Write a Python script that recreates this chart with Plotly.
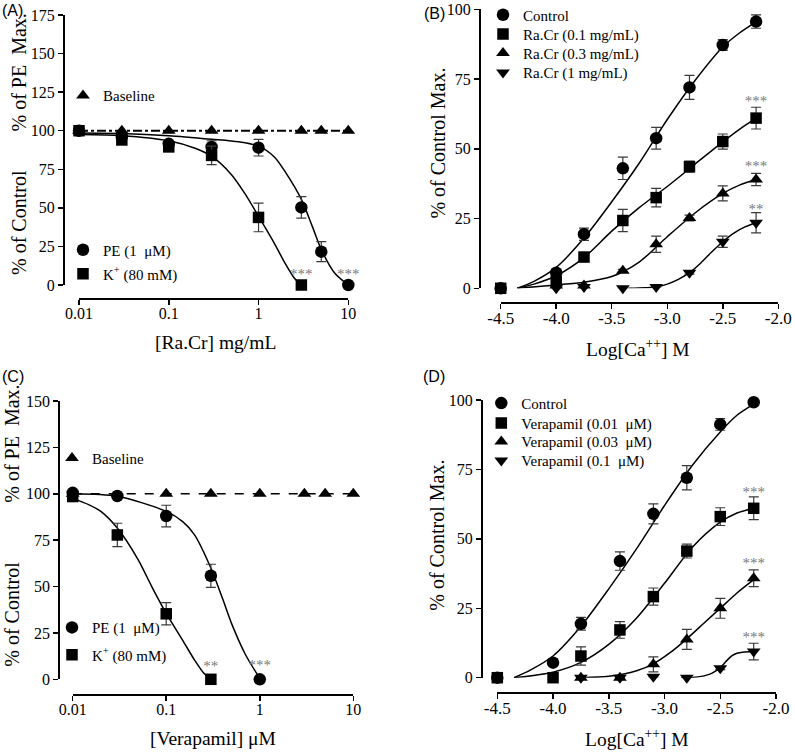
import plotly.graph_objects as go

W, H = 795, 752
SERIF = "Liberation Serif, 'Times New Roman', Times, serif"
SANS = "Liberation Sans, Arial, sans-serif"
ERR = "#3a3a3a"
SIG = "#7a7a7a"

# ---------------- Panel A : Ra.Cr on PE / K+ ----------------
A_base_x = [0.01, 0.03, 0.1, 0.3, 1, 3, 5, 10]
A_base_y = [100, 100, 100, 100, 100, 100, 100, 100]
A_pe_x = [0.01, 0.03, 0.1, 0.3, 1, 3, 5, 10]
A_pe_y = [100, 96, 91.5, 89.5, 89, 50.3, 21.6, 0]
A_pe_err = [0, 1.5, 2, 4, 5.4, 7, 6.5, 0]
A_k_x = [0.01, 0.03, 0.1, 0.3, 1, 3]
A_k_y = [100, 94, 89.5, 84, 43.8, 0]
A_k_err = [0, 2, 2.5, 6, 9.3, 0]
A_pe_fit_x = [0.01, 0.03, 0.1, 0.3, 0.6, 1, 1.5, 2, 3, 4, 5, 7, 10]
A_pe_fit_y = [98.5, 98.2, 96.8, 94.5, 92.8, 90, 83, 73, 55.5, 37.5, 23, 8, 0]
A_k_fit_x = [0.01, 0.03, 0.1, 0.2, 0.3, 0.5, 0.7, 1, 1.5, 2, 2.5, 3]
A_k_fit_y = [97.5, 96.8, 93.5, 88.5, 83.5, 71.5, 59.5, 44.5, 27, 13.5, 4.5, 0]
A_sig_x = [3, 10]
A_sig_y = [6, 6]
A_sig_text = ["***", "***"]
A_xticks = [0.01, 0.1, 1, 10]
A_xticklabels = ["0.01", "0.1", "1", "10"]
A_yticks = [0, 25, 50, 75, 100, 125, 150, 175]

# ---------------- Panel B : Ca++ curves with Ra.Cr ----------------
Ca_x = [-4.5, -4.0, -3.75, -3.4, -3.1, -2.8, -2.5, -2.2]
B_ctrl_y = [0, 5.6, 19.4, 43, 53.8, 72, 87.2, 95.6]
B_ctrl_err = [0, 1, 2.2, 4, 3.9, 4.3, 1.9, 2.4]
B_01_y = [0, 2.5, 11.2, 24.3, 32.5, 43.6, 52.6, 61]
B_01_err = [0, 0.5, 1, 4, 3.3, 2, 2.7, 3.9]
B_03_x = [-4.0, -3.75, -3.4, -3.1, -2.8, -2.5, -2.2]
B_03_y = [1, 1, 6.3, 15.8, 25.2, 34, 39]
B_03_err = [0, 0, 0.5, 2.9, 1, 2.7, 2.2]
B_1_x = [-4.0, -3.75, -3.4, -3.1, -2.8, -2.5, -2.2]
B_1_y = [0, 0.5, 0, 0.5, 5.6, 16.7, 23.5]
B_1_err = [0, 0, 0, 0, 0.5, 2, 3.6]
B_ctrl_fit_x = [-4.35, -4.2, -4.0, -3.75, -3.5, -3.25, -3.0, -2.75, -2.5, -2.35, -2.2]
B_ctrl_fit_y = [0, 2.5, 7.5, 18, 31, 45, 60.5, 74.5, 86.5, 91.5, 95.5]
B_01_fit_x = [-4.35, -4.2, -4.0, -3.75, -3.5, -3.25, -3.0, -2.75, -2.5, -2.35, -2.2]
B_01_fit_y = [0, 1.5, 4.5, 11, 20.5, 29, 36.5, 44.5, 52.5, 57, 61]
B_03_fit_x = [-4.35, -4.0, -3.75, -3.5, -3.25, -3.0, -2.75, -2.5, -2.35, -2.2]
B_03_fit_y = [0, 1.2, 2.2, 4.2, 9.5, 18.5, 27, 34, 37, 39]
B_1_fit_x = [-3.35, -3.2, -3.1, -3.0, -2.9, -2.8, -2.7, -2.6, -2.5, -2.4, -2.3, -2.2]
B_1_fit_y = [0, 0.2, 0.5, 1.5, 3.2, 5.6, 9, 13, 16.7, 19.8, 22, 23.5]
B_sig_x = [-2.2, -2.2, -2.2]
B_sig_y = [66.6, 43.4, 27.9]
B_sig_text = ["***", "***", "**"]
Ca_ticks = [-4.5, -4.0, -3.5, -3.0, -2.5, -2.0]
Ca_ticklabels = ["-4.5", "-4.0", "-3.5", "-3.0", "-2.5", "-2.0"]
Pct_ticks = [0, 25, 50, 75, 100]

# ---------------- Panel C : Verapamil on PE / K+ ----------------
C_base_x = [0.01, 0.1, 0.3, 1, 3, 5, 10]
C_base_y = [100, 100, 100, 100, 100, 100, 100]
C_pe_x = [0.01, 0.03, 0.1, 0.3, 1]
C_pe_y = [100.5, 98.8, 88, 55.8, 0]
C_pe_err = [0, 1, 5.8, 6.2, 0]
C_k_x = [0.01, 0.03, 0.1, 0.3]
C_k_y = [98.5, 77.8, 35.3, 0]
C_k_err = [0, 6.3, 6, 0]
C_pe_fit_x = [0.01, 0.03, 0.1, 0.15, 0.2, 0.3, 0.4, 0.5, 0.7, 1]
C_pe_fit_y = [100, 98.6, 90.5, 85, 78, 60, 43.5, 30, 13.5, 0.5]
C_k_fit_x = [0.01, 0.015, 0.02, 0.03, 0.05, 0.07, 0.1, 0.15, 0.2, 0.25, 0.3]
C_k_fit_y = [97.5, 94, 90.5, 81.5, 64.5, 50, 35.5, 21, 10.5, 3.5, 0]
C_sig_x = [0.3, 1]
C_sig_y = [6.5, 6.9]
C_sig_text = ["**", "***"]
C_yticks = [0, 25, 50, 75, 100, 125, 150]

# ---------------- Panel D : Ca++ curves with verapamil ----------------
D_ctrl_y = [0, 5.4, 19.4, 42, 59, 72, 91.2, 99.2]
D_ctrl_err = [0, 0, 2.3, 3.3, 3.6, 4.4, 2.1, 0.5]
D_001_y = [0, 0, 7.8, 17.2, 29.2, 45.6, 58, 61]
D_001_err = [0, 0, 3.3, 3, 3.1, 2.5, 3.2, 4.1]
D_003_x = [-3.75, -3.4, -3.1, -2.8, -2.5, -2.2]
D_003_y = [0, 0, 4.8, 13.8, 25, 35.8]
D_003_err = [0, 0, 2.7, 3.6, 3.6, 3]
D_01_x = [-3.75, -3.4, -3.1, -2.8, -2.5, -2.2]
D_01_y = [0, 0, 0.3, 0, 3.4, 9.4]
D_01_err = [0, 0, 0, 0, 0.5, 3]
D_ctrl_fit_x = [-4.35, -4.2, -4.0, -3.75, -3.5, -3.25, -3.0, -2.75, -2.5, -2.35, -2.2]
D_ctrl_fit_y = [0, 2.8, 7.8, 18.5, 32, 46.5, 62, 76.5, 88.5, 94.5, 98.5]
D_001_fit_x = [-4.35, -4.0, -3.75, -3.5, -3.25, -3.0, -2.75, -2.5, -2.35, -2.2]
D_001_fit_y = [0, 2, 5.5, 12, 21.5, 34, 47, 56, 59.3, 61]
D_003_fit_x = [-3.75, -3.5, -3.25, -3.1, -2.95, -2.8, -2.65, -2.5, -2.35, -2.2]
D_003_fit_y = [0, 0.5, 2.5, 5, 9, 14, 19.5, 25, 30.5, 35.3]
D_01_fit_x = [-2.85, -2.7, -2.6, -2.55, -2.5, -2.45, -2.4, -2.35, -2.3, -2.2]
D_01_fit_y = [0, 0.3, 1.2, 2.2, 3.6, 5.8, 7.8, 8.8, 9.2, 9.4]
D_sig_x = [-2.2, -2.2, -2.2]
D_sig_y = [66.4, 41.0, 14.3]
D_sig_text = ["***", "***", "***"]

fig = go.Figure()


def set_axes(idx, xdom, ydom, yline_x, xline_y, xlog, xrange, xtv, xtt, yrange, ytv, xfont=16):
    s = "" if idx == 1 else str(idx)
    common = dict(showline=True, linecolor="black", linewidth=2, ticks="outside",
                  ticklen=5, tickwidth=1.5, tickcolor="black", showgrid=False,
                  zeroline=False, fixedrange=True, automargin=False)
    fig.update_layout(**{
        "xaxis" + s: dict(domain=[xdom[0] / W, xdom[1] / W], anchor="free",
                          position=1 - xline_y / H, type="log" if xlog else "linear",
                          range=xrange, tickmode="array", tickvals=xtv, ticktext=xtt,
                          ticklabelstandoff=-5,
                          tickfont=dict(family=SERIF, size=xfont, color="black"),
                          **common),
        "yaxis" + s: dict(domain=[1 - ydom[0] / H, 1 - ydom[1] / H], anchor="free",
                          position=yline_x / W, range=yrange, tickmode="array",
                          tickvals=ytv, ticktext=[str(v) for v in ytv],
                          tickfont=dict(family=SERIF, size=16, color="black"),
                          **common),
    })


leg_count = [0]


def new_legend(mx, my):
    leg_count[0] += 1
    name = "legend" if leg_count[0] == 1 else "legend%d" % leg_count[0]
    fig.update_layout(**{name: dict(x=(mx - 22) / W, y=1 - my / H, xanchor="left",
                                    yanchor="middle", bgcolor="rgba(0,0,0,0)",
                                    borderwidth=0, itemclick=False, itemdoubleclick=False,
                                    font=dict(family=SERIF, size=15, color="black"))})
    return name


def curve(x, y, ax, dash=None, width=1.5, spline=True):
    fig.add_trace(go.Scatter(x=x, y=y, mode="lines", xaxis="x" + ax, yaxis="y" + ax,
                             showlegend=False, hoverinfo="skip",
                             line=dict(color="black", width=width, dash=dash,
                                       shape="spline" if spline else "linear",
                                       smoothing=0.8)))


def points(x, y, err, ax, symbol, size, name, legend_pos):
    leg = new_legend(*legend_pos)
    kw = {}
    if err is not None:
        kw["error_y"] = dict(type="data", array=err, visible=True, color=ERR,
                             thickness=1.2, width=5)
    fig.add_trace(go.Scatter(x=x, y=y, mode="markers", name=name, xaxis="x" + ax,
                             yaxis="y" + ax, cliponaxis=False, legend=leg,
                             marker=dict(symbol=symbol, size=size, color="black",
                                         line=dict(width=0)), **kw))


def sig(x, y, t, ax):
    fig.add_trace(go.Scatter(x=x, y=y, text=t, mode="text", xaxis="x" + ax, yaxis="y" + ax,
                             cliponaxis=False, showlegend=False, hoverinfo="skip",
                             textposition="middle center",
                             textfont=dict(family=SERIF, size=15, color=SIG)))


# axes (pixel geometry of each panel)
set_axes(1, (79, 348.3), (285, 15), 64, 299, True, [-2, 1], A_xticks, A_xticklabels, [0, 175], A_yticks)
set_axes(2, (500.7, 778.3), (288.3, 9.3), 480, 303, False, [-4.5, -2.0], Ca_ticks, Ca_ticklabels, [0, 100], Pct_ticks, xfont=17)
set_axes(3, (72.7, 353.3), (679.3, 401), 59.3, 694.5, True, [-2, 1], A_xticks, A_xticklabels, [0, 150], C_yticks)
set_axes(4, (497.3, 776), (677.7, 400), 482, 692.5, False, [-4.5, -2.0], Ca_ticks, Ca_ticklabels, [0, 100], Pct_ticks, xfont=17)

# ---- Panel A ----
curve(A_base_x, A_base_y, "", dash="dashdot", width=2, spline=False)
curve(A_pe_fit_x, A_pe_fit_y, "")
curve(A_k_fit_x, A_k_fit_y, "")
points(A_base_x, A_base_y, None, "", "triangle-up", 12, "Baseline", (85, 95.7))
points(A_pe_x, A_pe_y, A_pe_err, "", "circle", 12.5, "PE (1  μM)", (85, 250))
points(A_k_x, A_k_y, A_k_err, "", "square", 11.5, "K<sup>+</sup> (80 mM)", (85, 274))
sig(A_sig_x, A_sig_y, A_sig_text, "")

# ---- Panel B ----
curve(B_ctrl_fit_x, B_ctrl_fit_y, "2")
curve(B_01_fit_x, B_01_fit_y, "2")
curve(B_03_fit_x, B_03_fit_y, "2")
curve(B_1_fit_x, B_1_fit_y, "2")
points(Ca_x, B_ctrl_y, B_ctrl_err, "2", "circle", 12.5, "Control", (505, 15))
points(Ca_x, B_01_y, B_01_err, "2", "square", 11.5, "Ra.Cr (0.1 mg/mL)", (505, 34.3))
points(B_03_x, B_03_y, B_03_err, "2", "triangle-up", 12, "Ra.Cr (0.3 mg/mL)", (505, 53.3))
points(B_1_x, B_1_y, B_1_err, "2", "triangle-down", 12, "Ra.Cr (1 mg/mL)", (505, 72.7))
sig(B_sig_x, B_sig_y, B_sig_text, "2")

# ---- Panel C ----
curve(C_base_x, C_base_y, "3", dash="dash", width=1.5, spline=False)
curve(C_pe_fit_x, C_pe_fit_y, "3")
curve(C_k_fit_x, C_k_fit_y, "3")
points(C_base_x, C_base_y, None, "3", "triangle-up", 12, "Baseline", (74, 458.3))
points(C_pe_x, C_pe_y, C_pe_err, "3", "circle", 12.5, "PE (1  μM)", (74, 627.7))
points(C_k_x, C_k_y, C_k_err, "3", "square", 11.5, "K<sup>+</sup> (80 mM)", (74, 655))
sig(C_sig_x, C_sig_y, C_sig_text, "3")

# ---- Panel D ----
curve(D_ctrl_fit_x, D_ctrl_fit_y, "4")
curve(D_001_fit_x, D_001_fit_y, "4")
curve(D_003_fit_x, D_003_fit_y, "4")
curve(D_01_fit_x, D_01_fit_y, "4")
points(Ca_x, D_ctrl_y, D_ctrl_err, "4", "circle", 12.5, "Control", (503.3, 403.3))
points(Ca_x, D_001_y, D_001_err, "4", "square", 11.5, "Verapamil (0.01  μM)", (503.3, 423.3))
points(D_003_x, D_003_y, D_003_err, "4", "triangle-up", 12, "Verapamil (0.03  μM)", (503.3, 441.7))
points(D_01_x, D_01_y, D_01_err, "4", "triangle-down", 12, "Verapamil (0.1  μM)", (503.3, 460.7))
sig(D_sig_x, D_sig_y, D_sig_text, "4")

# ---- text: titles and panel letters ----
texts = [
    ("(A)", 12.5, 10.3, 0, SANS, 16),
    ("(B)", 434, 13.7, 0, SANS, 16),
    ("(C)", 12.5, 376, 0, SANS, 16),
    ("(D)", 434, 376, 0, SANS, 16),
    ("% of PE  Max.", 18.5, 73, -90, SERIF, 20),
    ("% of Control", 18.5, 222.5, -90, SERIF, 20),
    ("[Ra.Cr] mg/mL", 215.7, 343, 0, SERIF, 19.5),
    ("% of Control Max.", 438.3, 143.3, -90, SERIF, 20),
    ("Log[Ca<sup>++</sup>] M", 638, 347.5, 0, SERIF, 19.5),
    ("% of PE  Max.", 11.7, 444, -90, SERIF, 20),
    ("% of Control", 11.7, 614, -90, SERIF, 20),
    ("[Verapamil] μM", 213, 738.3, 0, SERIF, 19.5),
    ("% of Control Max.", 436.7, 535, -90, SERIF, 20),
    ("Log[Ca<sup>++</sup>] M", 636.7, 738.3, 0, SERIF, 19.5),
]
for t, x, y, ang, fam, sz in texts:
    fig.add_annotation(text=t, x=x / W, y=1 - y / H, xref="paper", yref="paper",
                       xanchor="center", yanchor="middle", showarrow=False,
                       textangle=ang, font=dict(family=fam, size=sz, color="black"))

fig.update_layout(width=W, height=H,
                  margin=dict(l=0, r=0, t=0, b=0, pad=0, autoexpand=False),
                  paper_bgcolor="white", plot_bgcolor="white",
                  font=dict(family=SERIF, color="black"))

fig.write_html("out.html", config={"displayModeBar": False, "staticPlot": True},
               post_script="document.body.style.margin='0px';"
                           "document.body.style.overflow='hidden';")
